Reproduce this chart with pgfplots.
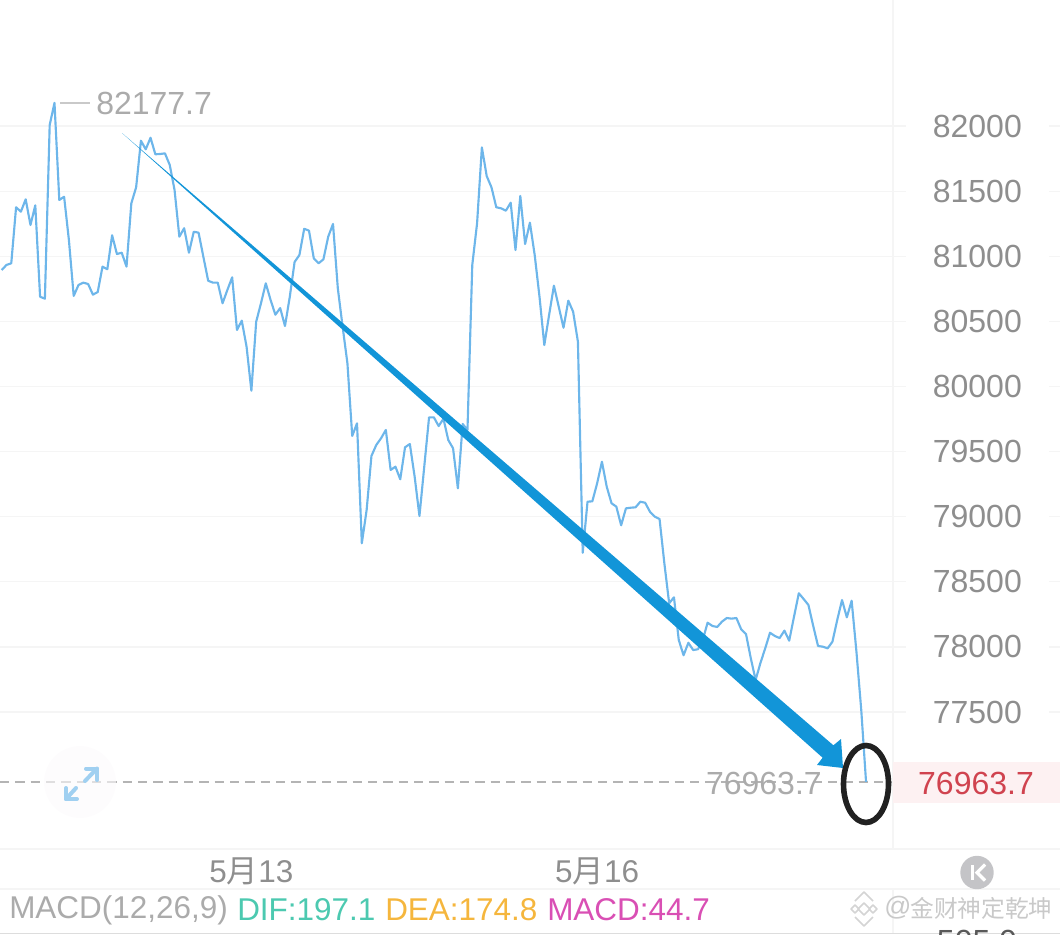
\documentclass[border=0pt]{standalone}
\usepackage{fontspec}
\setmainfont{Liberation Sans}
\newfontfamily\cjk{Noto Sans CJK SC}
\usepackage{pgfplots}
\usepackage{pgfplotstable}
\pgfplotsset{compat=1.18}

\definecolor{priceblue}{HTML}{6DB6EA}
\definecolor{arrowblue}{HTML}{1295D8}
\definecolor{gridc}{HTML}{F5F5F5}
\definecolor{ticktext}{HTML}{8E8E8E}
\definecolor{softtext}{HTML}{ABABAB}
\definecolor{dashc}{HTML}{B4B4B4}
\definecolor{tagbg}{HTML}{FDF1F2}
\definecolor{tagred}{HTML}{D0434F}
\definecolor{difc}{HTML}{4CC9B0}
\definecolor{deac}{HTML}{F5B63D}
\definecolor{macdc}{HTML}{D94FB4}
\definecolor{markc}{HTML}{C9C9C9}

% hourly close, x is the hour index
\pgfplotstableread{
x y
0 80894
1 80933
2 80946
3 81376
4 81342
5 81437
6 81240
7 81391
8 80689
9 80674
10 82008
11 82177.7
12 81432
13 81457
14 81125
15 80695
16 80779
17 80797
18 80787
19 80705
20 80725
21 80920
22 80900
23 81161
24 81017
25 81027
26 80920
27 81406
28 81529
29 81887
30 81821
31 81910
32 81783
33 81785
34 81790
35 81701
36 81509
37 81150
38 81215
39 81027
40 81188
41 81181
42 80996
43 80812
44 80797
45 80797
46 80639
47 80741
48 80838
49 80434
50 80505
51 80305
52 79967
53 80497
54 80639
55 80792
56 80664
57 80551
58 80602
59 80464
60 80689
61 80956
62 81009
63 81211
64 81196
65 80984
66 80946
67 80976
68 81150
69 81248
70 80754
71 80459
72 80178
73 79620
74 79717
75 78796
76 79051
77 79466
78 79550
79 79602
80 79666
81 79359
82 79384
83 79287
84 79533
85 79558
86 79307
87 79005
88 79384
89 79763
90 79763
91 79696
92 79752
93 79589
94 79525
95 79218
96 79712
97 79666
98 80933
99 81253
100 81836
101 81616
102 81529
103 81376
104 81368
105 81350
106 81411
107 81048
108 81463
109 81094
110 81258
111 81009
112 80689
113 80318
114 80549
115 80774
116 80613
117 80451
118 80659
119 80574
120 80344
121 78723
122 79115
123 79118
124 79256
125 79422
126 79230
127 79103
128 79077
129 78934
130 79064
131 79069
132 79072
133 79115
134 79107
135 79038
136 79000
137 78982
138 78642
139 78335
140 78381
141 78053
142 77936
143 78032
144 77976
145 77982
146 78053
147 78186
148 78161
149 78153
150 78194
151 78222
152 78217
153 78222
154 78135
155 78099
156 77913
157 77746
158 77876
159 77989
160 78109
161 78084
162 78068
163 78125
164 78048
165 78232
166 78412
167 78368
168 78322
169 78161
170 78007
171 78002
172 77989
173 78040
174 78207
175 78360
176 78227
177 78355
178 77963
179 77516
180 76963.7
}\pricetable

\begin{document}
\begin{tikzpicture}
  \path[use as bounding box] (0,0) rectangle (795pt,-701.25pt);
  \begin{axis}[
      at={(0,0)},
      anchor=north west,
      scale only axis,
      width=795pt,
      height=701.25pt,
      xmin=-0.348, xmax=220.39,
      ymin=75787.7, ymax=82967.6,
      axis line style={draw=none},
      major tick length=0pt,
      xtick={52,124},
      xticklabels={5{\cjk 月}13,5{\cjk 月}16},
      ytick={77500,78000,78500,79000,79500,80000,80500,81000,81500,82000},
      scaled y ticks=false,
      ymajorgrids=true,
      grid style={gridc,line width=0.9pt},
      yticklabel pos=right,
      /pgf/number format/assume math mode=true,
      /pgf/number format/1000 sep={},
      y tick label style={/pgf/number format/fixed,font=\fontsize{24pt}{28pt}\selectfont,text=ticktext,anchor=center,
        xshift=-62pt,fill=white,inner xsep=20pt,inner ysep=1pt},
      x tick label style={font=\fontsize{23.6pt}{27pt}\selectfont,text=ticktext,anchor=center,
        yshift=48pt},
      clip=false,
  ]
    \addplot[dashc,line width=1.3pt,dash pattern=on 7pt off 4.5pt] coordinates {(-0.348,76963.7) (185.6,76963.7)};
    \addplot[priceblue,line width=1.6pt,line join=round] table[x=x,y=y] {\pricetable};
  \end{axis}
  \begin{scope}[x=0.75pt,y=-0.75pt]
    % panel rules
    \draw[gridc,line width=0.9pt] (893,0) -- (893,849);
    \draw[gridc,line width=1.2pt] (0,849) -- (1060,849);
    \draw[gridc,line width=1.2pt] (0,889) -- (1060,889);
    \draw[gridc,line width=0.9pt] (893,889) -- (893,933);
    \draw[gridc!90!black,line width=0.8pt] (0,933.5) -- (1060,933.5);
    % price callouts
    \draw[markc,line width=0.8pt] (60,103) -- (90,103);
    \node[anchor=west,inner sep=0pt,text=softtext,font=\fontsize{24pt}{28pt}\selectfont] at (96,103) {82177.7};
    \node[anchor=east,inner sep=0pt,text=softtext,font=\fontsize{24pt}{28pt}\selectfont] at (822,783) {76963.7};
    \fill[tagbg] (893,762) rectangle (1060,803);
    \node[inner sep=0pt,text=tagred,font=\fontsize{24pt}{28pt}\selectfont] at (976,783) {76963.7};
    % expand button
    \fill[violet!2,opacity=0.6] (80,782) circle (36);
    \begin{scope}[line width=3pt,draw=priceblue!65,line cap=round,line join=round]
      \draw (85,781) -- (97,768.5);
      \draw (86,768.5) -- (97,768.5) -- (97,780);
      \draw (76,788) -- (66,799);
      \draw (66,788) -- (66,799) -- (77,799);
    \end{scope}
    % hand drawn arrow and ring
    \fill[arrowblue] (122,133) -- (833.4,745.3) -- (841,739) -- (843,768) -- (817,765) -- (822.6,757.7) -- cycle;
    \draw[black!87,line width=4.2pt] (866,784) ellipse (22.5 and 38.5);
    % macd strip
    \begin{scope}[every node/.style={anchor=west,inner sep=0pt,font=\fontsize{23.6pt}{27pt}\selectfont}]
      \node[text=softtext] at (9,910) {MACD(12,26,9)};
      \node[text=difc] at (237,910) {DIF:197.1};
      \node[text=deac] at (385,910) {DEA:174.8};
      \node[text=macdc] at (547,910) {MACD:44.7};
    \end{scope}
    % right column extras
    \fill[black!10!blue!3!gray!45] (977,872.5) circle (16.7);
    \draw[white,line width=2.4pt] (972.5,865) -- (972.5,880);
    \draw[white,line width=2.4pt] (985,864.5) -- (977,872.5) -- (985,880.5);
    \node[anchor=north,inner sep=0pt,text=black!65,font=\fontsize{24pt}{28pt}\selectfont] at (977,930) {505.0};
    % watermark
    \begin{scope}[line width=1.3pt,line join=round]
      \draw[markc!80] (864,903) -- (870,909) -- (864,915) -- (858,909) -- cycle;
      \draw[markc!80] (851,909) -- (855,905) -- (859,909) -- (855,913) -- cycle;
      \draw[markc!80] (869,909) -- (873,905) -- (877,909) -- (873,913) -- cycle;
      \draw[markc!80] (855,901) -- (864,892) -- (873,901);
      \draw[markc!80] (855,917) -- (864,926) -- (873,917);
    \end{scope}
    \node[anchor=west,inner sep=0pt,text=markc,font=\fontsize{20pt}{24pt}\selectfont] at (884,908) {@};
    \node[anchor=west,inner sep=0pt,text=markc,font=\cjk\fontsize{17.8pt}{22pt}\selectfont] at (910,908) {金财神定乾坤};
  \end{scope}
\end{tikzpicture}
\end{document}
